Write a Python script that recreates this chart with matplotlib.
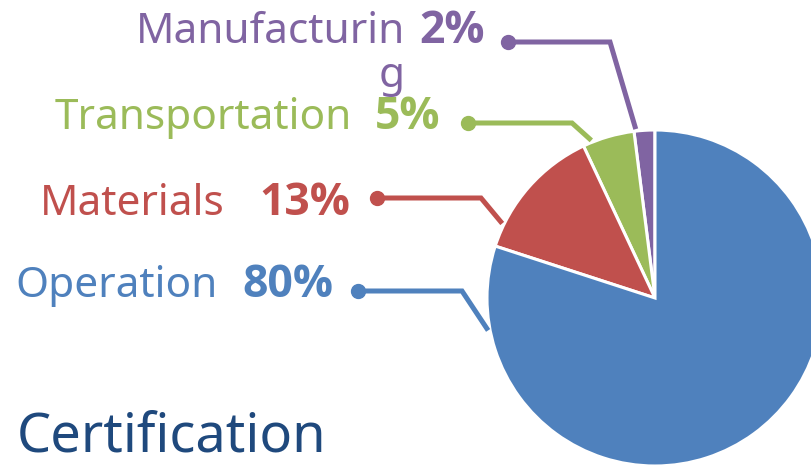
import numpy as np
import matplotlib
matplotlib.use("Agg")
import matplotlib.pyplot as plt

# data (pie order: from top, going counter-clockwise)
categories = ['Manufacturing', 'Transportation', 'Materials', 'Operation']
shares = [2, 5, 13, 80]
colors = ['#8064A2', '#9BBB59', '#C0504D', '#4F81BD']
shown = ['Manufacturin\ng', 'Transportation', 'Materials', 'Operation']
title = 'Certification'

plt.rcParams['font.family'] = ['Noto Sans', 'DejaVu Sans']

fig = plt.figure(figsize=(8.11, 4.68), dpi=100)
ax = fig.add_axes([0, 0, 1, 1])

cx, cy, r = 655, 298, 168
# y axis is inverted (pixel like), so the turning sense flips
ax.pie(shares, colors=colors, startangle=-90, counterclock=False,
       center=(cx, cy), radius=r,
       wedgeprops=dict(edgecolor='white', linewidth=2.2))
ax.set_xlim(0, 811)
ax.set_ylim(468, 0)
ax.set_aspect('equal')
ax.axis('off')

# label layout: dot x, line y, elbow x, edge angle (deg), name right x, pct right x, baseline
layout = {
    'Manufacturing':  (508, 42, 610, 96.5, 405, 485, 43),
    'Transportation': (468, 123, 572, 112, 352, 440, 129),
    'Materials':      (377, 198, 481, 154, 225, 350, 215),
    'Operation':      (358, 291, 462, 191, 218, 333, 297),
}

for name, lab, share, col in zip(categories, shown, shares, colors):
    dx, ly, ex, ang, nx, px, base = layout[name]
    a = np.radians(ang)
    edge = (cx + (r + 2) * np.cos(a), cy - (r + 2) * np.sin(a))
    ax.plot([dx, ex, edge[0]], [ly, ly, edge[1]], color=col, lw=3.6,
            solid_capstyle='butt', solid_joinstyle='miter')
    ax.plot([dx], [ly], 'o', color=col, ms=10)
    # wrapped label, one line at a time
    for i, part in enumerate(lab.split('\n')):
        ax.text(nx, base + i * 44, part, color=col, fontsize=30.5,
                ha='right', va='baseline')
    ax.text(px, base, f'{share}%', color=col, fontsize=32,
            family=['Open Sans', 'DejaVu Sans'], fontweight='bold',
            ha='right', va='baseline')

ax.text(17, 452, title, color='#1F497D', fontsize=39, ha='left', va='baseline')

fig.savefig('out.png', dpi=100)
